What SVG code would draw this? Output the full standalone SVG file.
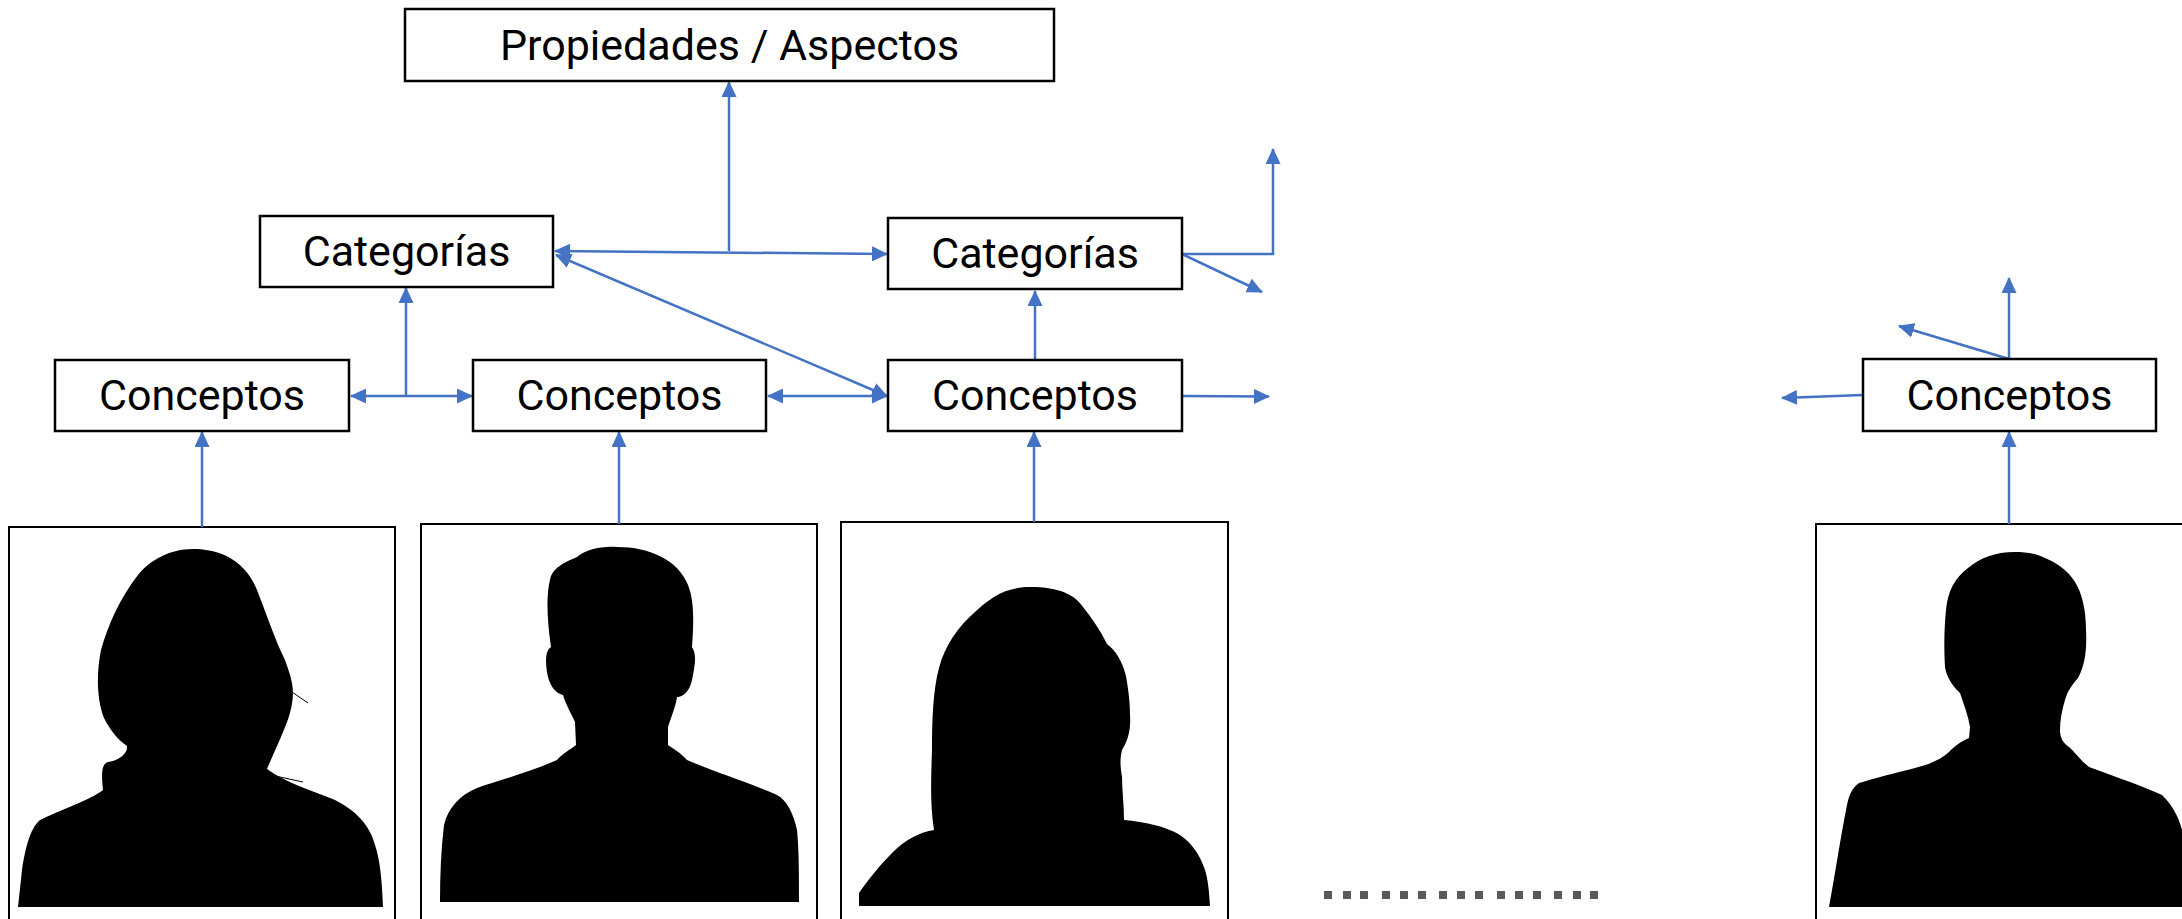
<svg xmlns="http://www.w3.org/2000/svg" width="2182" height="919" viewBox="0 0 2182 919">
<defs>
<marker id="ah" markerUnits="userSpaceOnUse" markerWidth="16" markerHeight="15" refX="15" refY="7.5" orient="auto-start-reverse" viewBox="0 0 16 15">
<path d="M0,0 L16,7.5 L0,15 z" fill="#4472C4"/>
</marker>
<style>
.box{fill:#fff;stroke:#000;stroke-width:2.5}
.photo{fill:#fff;stroke:#000;stroke-width:2}
.lbl{font-family:Roboto,"Liberation Sans",sans-serif;font-size:43px;fill:#000;text-anchor:middle}
.c{fill:none;stroke:#4472C4;stroke-width:2.5}
.sil{fill:#000}
.dot{fill:#595959}
</style>
</defs>
<rect width="2182" height="919" fill="#fff"/>

<g id="photo1">
<rect class="photo" x="9" y="527" width="386" height="420"/>
<path class="sil" d="M193,549 C170,549 150,560 138,575 C120,598 108,625 101,650 C96,675 97,700 104,718 C110,730 118,740 127,746 C128,753 120,760 108,762 C102,764 101,772 103,790 C90,800 60,810 40,820 C30,828 25,850 22,870 L18,907 L383,907 C382,880 380,860 375,845 C370,825 355,810 335,800 C310,790 285,782 267,769 C275,750 285,730 290,713 C296,690 292,680 285,660 C275,640 265,610 257,590 C245,560 220,549 193,549 Z"/>
<path d="M292,692 L308,703 M266,774 L303,782 M106,697 L119,731" stroke="#000" stroke-width="1" fill="none"/>
</g>

<g id="photo2">
<rect class="photo" x="421" y="524" width="396" height="420"/>
<path class="sil" d="M617,547 C600,546 585,550 577,557 C565,562 552,568 550,580 C546,595 547,620 551,647 C546,650 545,660 547,672 C549,685 555,693 563,695 C566,705 572,715 575,722 L576,745 C570,750 563,753 557,760 C530,772 500,780 477,788 C460,795 448,808 444,825 C441,850 440,875 440,902 L799,902 C799,875 799,850 797,830 C794,815 787,800 777,795 C750,783 715,772 687,760 C680,752 672,748 668,745 L668,727 C672,715 676,705 677,697 C684,697 690,690 692,680 C695,665 697,655 692,647 C694,620 694,600 688,585 C678,560 650,547 617,547 Z"/>
</g>

<g id="photo3">
<rect class="photo" x="841" y="522" width="387" height="420"/>
<path class="sil" d="M1030,587 C1005,587 990,598 975,612 C958,627 945,645 939,668 C933,690 932,720 932,750 C931,780 930,805 934,830 C920,832 905,840 893,852 C880,865 868,880 859,893 L859,906 L1210,906 C1209,890 1208,880 1205,870 C1200,855 1192,843 1180,835 C1165,826 1145,822 1124,820 C1124,805 1122,790 1122,777 C1120,765 1120,758 1122,750 C1128,740 1131,730 1130,715 C1130,700 1128,688 1126,676 C1122,660 1115,650 1107,644 C1100,630 1092,618 1083,607 C1075,595 1060,587 1030,587 Z"/>
</g>

<g id="photo4">
<rect class="photo" x="1816" y="524" width="400" height="420"/>
<path class="sil" d="M2015,552 C1995,552 1980,558 1968,568 C1955,578 1948,590 1946,610 C1944,630 1944,650 1945,667 C1947,680 1955,688 1960,693 C1964,705 1968,715 1970,727 L1969,738 C1960,742 1955,746 1949,752 C1940,760 1930,764 1915,768 C1895,773 1875,778 1859,783 C1852,788 1849,795 1847,805 C1840,840 1835,875 1829,907 L2182,907 L2182,830 C2178,815 2172,805 2162,795 C2140,785 2110,775 2089,767 C2080,760 2075,752 2069,747 C2063,743 2060,738 2060,730 C2060,720 2062,710 2065,700 C2068,690 2072,685 2078,678 C2085,665 2087,650 2086,630 C2086,610 2082,593 2075,582 C2068,570 2055,562 2045,558 C2035,553 2025,552 2015,552 Z"/>
</g>

<g id="ellipsis">
<rect class="dot" x="1324" y="891" width="8" height="8"/>
<rect class="dot" x="1343" y="891" width="8" height="8"/>
<rect class="dot" x="1360" y="891" width="8" height="8"/>
<rect class="dot" x="1382" y="891" width="8" height="8"/>
<rect class="dot" x="1400" y="891" width="8" height="8"/>
<rect class="dot" x="1418" y="891" width="8" height="8"/>
<rect class="dot" x="1439" y="891" width="8" height="8"/>
<rect class="dot" x="1457" y="891" width="8" height="8"/>
<rect class="dot" x="1475" y="891" width="8" height="8"/>
<rect class="dot" x="1497" y="891" width="8" height="8"/>
<rect class="dot" x="1515" y="891" width="8" height="8"/>
<rect class="dot" x="1533" y="891" width="8" height="8"/>
<rect class="dot" x="1554" y="891" width="8" height="8"/>
<rect class="dot" x="1573" y="891" width="8" height="8"/>
<rect class="dot" x="1590" y="891" width="8" height="8"/>
</g>

<g id="connectors">
<line class="c" x1="729" y1="251" x2="729" y2="82" marker-end="url(#ah)"/>
<line class="c" x1="555" y1="251" x2="887" y2="254" marker-start="url(#ah)" marker-end="url(#ah)"/>
<line class="c" x1="556" y1="255" x2="887" y2="396" marker-start="url(#ah)" marker-end="url(#ah)"/>
<line class="c" x1="351" y1="396" x2="472" y2="396" marker-start="url(#ah)" marker-end="url(#ah)"/>
<line class="c" x1="406" y1="396" x2="406" y2="288" marker-end="url(#ah)"/>
<line class="c" x1="768" y1="396" x2="887" y2="396" marker-start="url(#ah)" marker-end="url(#ah)"/>
<line class="c" x1="1035" y1="360" x2="1035" y2="291" marker-end="url(#ah)"/>
<line class="c" x1="1182" y1="396" x2="1269" y2="396.5" marker-end="url(#ah)"/>
<polyline class="c" points="1182,254 1273,254 1273,149" marker-end="url(#ah)"/>
<line class="c" x1="1182" y1="254" x2="1262" y2="292" marker-end="url(#ah)"/>
<line class="c" x1="202" y1="527" x2="202" y2="432" marker-end="url(#ah)"/>
<line class="c" x1="619" y1="524" x2="619" y2="432" marker-end="url(#ah)"/>
<line class="c" x1="1034" y1="522" x2="1034" y2="432" marker-end="url(#ah)"/>
<line class="c" x1="2009" y1="524" x2="2009" y2="432" marker-end="url(#ah)"/>
<line class="c" x1="2009" y1="359" x2="2009" y2="278" marker-end="url(#ah)"/>
<line class="c" x1="2009" y1="359" x2="1899" y2="326" marker-end="url(#ah)"/>
<line class="c" x1="1863" y1="395" x2="1782" y2="398" marker-end="url(#ah)"/>
</g>

<g id="propiedades">
<rect class="box" x="405" y="9" width="649" height="72"/>
<text class="lbl" x="729.5" y="60">Propiedades / Aspectos</text>
</g>
<g id="categorias1">
<rect class="box" x="260" y="216" width="293" height="71"/>
<text class="lbl" x="406.5" y="266">Categorías</text>
</g>
<g id="categorias2">
<rect class="box" x="888" y="218" width="294" height="71"/>
<text class="lbl" x="1035" y="268">Categorías</text>
</g>
<g id="conceptos1">
<rect class="box" x="55" y="360" width="294" height="71"/>
<text class="lbl" x="202" y="410">Conceptos</text>
</g>
<g id="conceptos2">
<rect class="box" x="473" y="360" width="293" height="71"/>
<text class="lbl" x="619.5" y="410">Conceptos</text>
</g>
<g id="conceptos3">
<rect class="box" x="888" y="360" width="294" height="71"/>
<text class="lbl" x="1035" y="410">Conceptos</text>
</g>
<g id="conceptos4">
<rect class="box" x="1863" y="359" width="293" height="72"/>
<text class="lbl" x="2009.5" y="410">Conceptos</text>
</g>
</svg>
